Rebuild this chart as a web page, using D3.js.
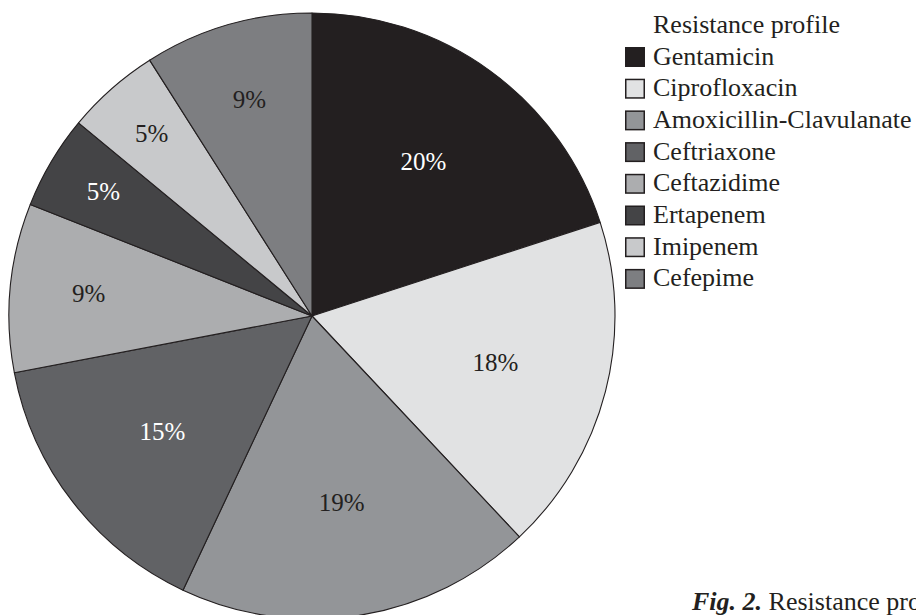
<!DOCTYPE html>
<html>
<head>
<meta charset="utf-8">
<script src="https://cdn.jsdelivr.net/npm/d3@7"></script>
<style>
  html, body { margin: 0; padding: 0; background: #fff; }
  svg { display: block; font-family: "Liberation Serif", "DejaVu Serif", serif; }
</style>
</head>
<body>
<svg id="chart" width="916" height="615"></svg>
<script>
// Share of resistance per antibiotic (%)
const antibiotics = ["Gentamicin", "Ciprofloxacin", "Amoxicillin-Clavulanate", "Ceftriaxone",
                     "Ceftazidime", "Ertapenem", "Imipenem", "Cefepime"];
const shares = [20, 18, 19, 15, 9, 5, 5, 9];
const fills = ["#231f20", "#e1e2e3", "#939598", "#616265", "#acadaf", "#444446", "#c8c9cb", "#7d7e81"];
const labelInk = ["#ffffff", "#231f20", "#231f20", "#ffffff", "#231f20", "#ffffff", "#231f20", "#231f20"];

const ink = "#231f20";
const svg = d3.select("#chart");

const cx = 312, cy = 316, radius = 303;

const color = d3.scaleOrdinal().domain(antibiotics).range(fills);
const textColor = d3.scaleOrdinal().domain(antibiotics).range(labelInk);

const pie = d3.pie().sort(null).value(d => d.value);
const arcs = pie(antibiotics.map((name, i) => ({ name, value: shares[i] })));
const arc = d3.arc().innerRadius(0).outerRadius(radius);

const g = svg.append("g").attr("transform", `translate(${cx},${cy})`);

g.selectAll("path.slice")
  .data(arcs)
  .join("path")
  .attr("class", "slice")
  .attr("d", arc)
  .attr("fill", d => color(d.data.name))
  .attr("stroke", ink)
  .attr("stroke-width", 1.1)
  .attr("stroke-linejoin", "round");

// narrow slices carry their label further out
function labelRadius(v) {
  if (v >= 15) return radius * 0.625;
  if (v >= 9) return radius * 0.74;
  return radius * 0.8;
}

g.selectAll("text.pct")
  .data(arcs)
  .join("text")
  .attr("class", "pct")
  .attr("transform", d => {
    const r = labelRadius(d.data.value);
    const c = d3.arc().innerRadius(r).outerRadius(r).centroid(d);
    return `translate(${c[0]},${c[1]})`;
  })
  .attr("text-anchor", "middle")
  .attr("dy", "0.3em")
  .attr("font-size", 25)
  .attr("fill", d => textColor(d.data.name))
  .text(d => d.data.value + "%");

// Legend
const legend = svg.append("g").attr("transform", "translate(625,47)");
const rowStep = 31.7;

legend.append("text")
  .attr("x", 28)
  .attr("y", -14)
  .attr("font-size", 26)
  .attr("fill", ink)
  .text("Resistance profile");

const rows = legend.selectAll("g.row")
  .data(antibiotics)
  .join("g")
  .attr("class", "row")
  .attr("transform", (d, i) => `translate(0,${i * rowStep})`);

rows.append("rect")
  .attr("x", 0.75)
  .attr("y", 0.75)
  .attr("width", 18.5)
  .attr("height", 18.5)
  .attr("fill", d => color(d))
  .attr("stroke", ink)
  .attr("stroke-width", 1.5);

rows.append("text")
  .attr("x", 28)
  .attr("y", 17.5)
  .attr("font-size", 26)
  .attr("fill", ink)
  .text(d => d);

// Figure caption
const caption = svg.append("text")
  .attr("x", 692)
  .attr("y", 610)
  .attr("font-size", 26)
  .attr("fill", ink);
caption.append("tspan").attr("font-weight", "bold").attr("font-style", "italic").text("Fig. 2.");
caption.append("tspan").text(" Resistance profile of the isolates");
</script>
</body>
</html>
